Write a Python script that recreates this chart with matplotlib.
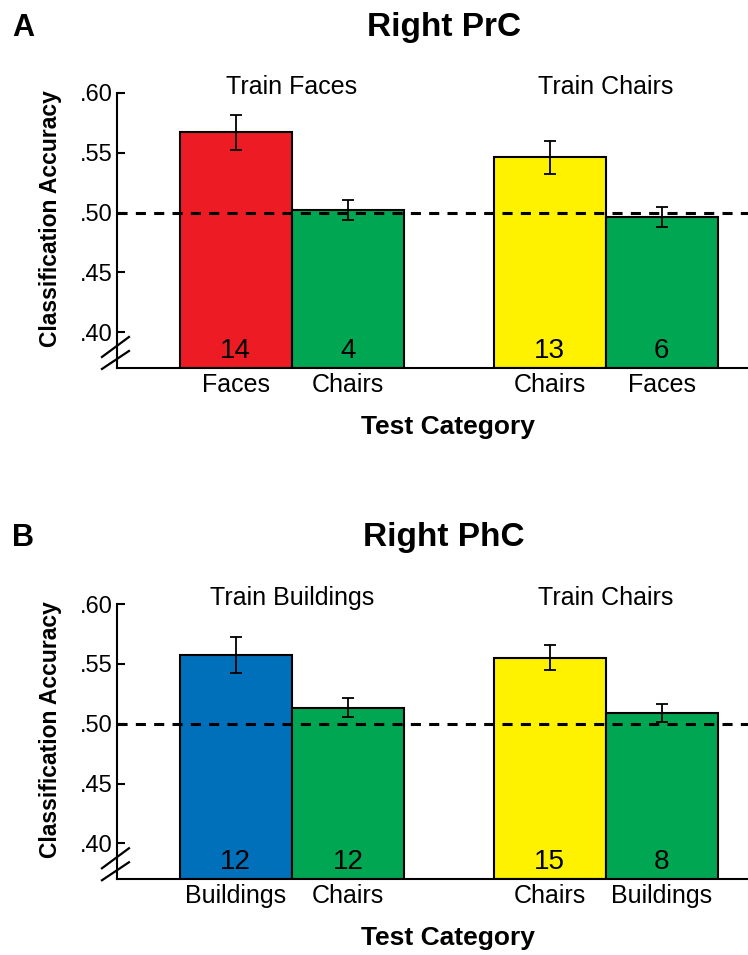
import matplotlib
matplotlib.use('Agg')
import matplotlib.pyplot as plt

plt.rcParams['font.family'] = ['Liberation Sans', 'DejaVu Sans']

RED = '#ED1C24'
GREEN = '#00A651'
YELLOW = '#FFF200'
BLUE = '#0070BA'

positions = [0, 1, 2.8, 3.8]
group_centers = [0.5, 3.3]

# panel A - Right PrC
labels_a = ['Faces', 'Chairs', 'Chairs', 'Faces']
acc_a = [0.567, 0.502, 0.546, 0.496]
err_a = [0.0145, 0.0085, 0.0135, 0.0085]
n_a = [14, 4, 13, 6]
colors_a = [RED, GREEN, YELLOW, GREEN]
train_a = ['Train Faces', 'Train Chairs']

# panel B - Right PhC
labels_b = ['Buildings', 'Chairs', 'Chairs', 'Buildings']
acc_b = [0.5575, 0.5135, 0.555, 0.509]
err_b = [0.015, 0.008, 0.0105, 0.0073]
n_b = [12, 12, 15, 8]
colors_b = [BLUE, GREEN, YELLOW, GREEN]
train_b = ['Train Buildings', 'Train Chairs']

yticks = [0.40, 0.45, 0.50, 0.55, 0.60]
chance = 0.50


def draw_panel(ax, labels, acc, err, ns, colors, train):
    ax.bar(positions, [a - 0.37 for a in acc], bottom=0.37, width=1.0,
           color=colors, edgecolor='black', linewidth=1.5, zorder=2)
    ax.axhline(chance, color='black', linestyle=(0, (3.3, 2.7)), lw=2.2, zorder=3)
    ax.errorbar(positions, acc, yerr=err, fmt='none', ecolor='black',
                elinewidth=1.3, capsize=4, capthick=1.3, zorder=4)
    for x, n in zip(positions, ns):
        ax.text(x, 0.3785, str(n), ha='center', va='baseline', fontsize=20, zorder=5)
    for x, t in zip(group_centers, train):
        ax.text(x, 0.599, t, ha='center', va='baseline', fontsize=18, clip_on=False)

    ax.set_xlim(-1.06, 4.57)
    ax.set_ylim(0.37, 0.60)
    ax.set_yticks(yticks)
    ax.set_yticklabels(['.40', '.45', '.50', '.55', '.60'], fontsize=17)
    ax.set_xticks(positions)
    ax.set_xticklabels(labels, fontsize=18)
    ax.tick_params(axis='y', direction='in', length=6, width=1.5, pad=3)
    ax.tick_params(axis='x', length=0, pad=3.5)
    for s in ['top', 'right']:
        ax.spines[s].set_visible(False)
    for s in ['left', 'bottom']:
        ax.spines[s].set_linewidth(1.5)

    ax.set_ylabel('Classification Accuracy', fontsize=16.5, fontweight='bold', va='center')
    ax.yaxis.set_label_coords(-0.105, 0.544)
    ax.set_xlabel('Test Category', fontsize=19, fontweight='bold', va='baseline')
    ax.xaxis.set_label_coords(0.5246, -0.24)

    # axis break marks
    ax.plot([-0.0238, 0.019], [0.04, 0.1127], transform=ax.transAxes,
            color='black', lw=1.6, clip_on=False)
    ax.plot([-0.0238, 0.019], [-0.0036, 0.0618], transform=ax.transAxes,
            color='black', lw=1.6, clip_on=False)


fig = plt.figure(figsize=(7.48, 9.55), dpi=100)
ax_a = fig.add_axes([0.1564, 0.6147, 0.8436, 0.2880])
ax_b = fig.add_axes([0.1564, 0.0793, 0.8436, 0.2882])

draw_panel(ax_a, labels_a, acc_a, err_a, n_a, colors_a, train_a)
draw_panel(ax_b, labels_b, acc_b, err_b, n_b, colors_b, train_b)

fig.text(12 / 748, 1 - 36 / 955, 'A', fontsize=22, fontweight='bold', va='baseline')
fig.text(444 / 748, 1 - 36 / 955, 'Right PrC', fontsize=24, fontweight='bold',
         ha='center', va='baseline')
fig.text(12 / 748, 1 - 546 / 955, 'B', fontsize=22, fontweight='bold', va='baseline')
fig.text(444 / 748, 1 - 546 / 955, 'Right PhC', fontsize=24, fontweight='bold',
         ha='center', va='baseline')

fig.savefig('out.png', dpi=100)
